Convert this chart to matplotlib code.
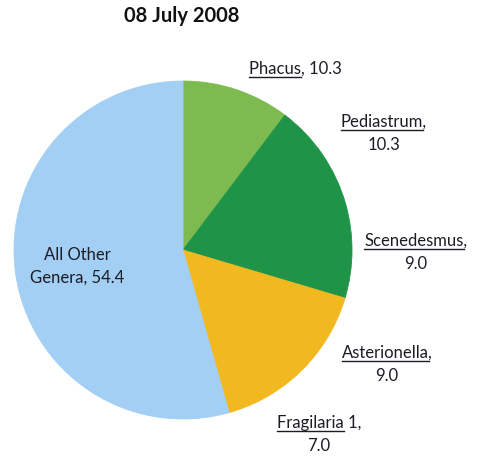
import matplotlib
matplotlib.use("Agg")
import matplotlib.pyplot as plt
from matplotlib.lines import Line2D

# Share of total cell count by genus, 08 July 2008
genera = ["Phacus", "Pediastrum", "Scenedesmus", "Asterionella", "Fragilaria 1", "All Other Genera"]
percent = [10.3, 10.3, 9.0, 9.0, 7.0, 54.4]
slice_colors = ["#7dbb50", "#1f9448", "#1f9448", "#f2b820", "#f2b820", "#a3cff5"]
title = "08 July 2008"

W, H = 478, 457
FONT = "Lato"
FS = 12.0
TXT = "#1c1c24"

fig = plt.figure(figsize=(W / 100, H / 100), dpi=100)
fig.patch.set_facecolor("white")

# pie placed by pixel centre and radius
cx, cy, r = 183, 250, 169
ax = fig.add_axes([(cx - r) / W, (H - cy - r) / H, 2 * r / W, 2 * r / H])
wedges, _ = ax.pie(percent, colors=slice_colors, startangle=90, counterclock=False,
                   radius=1, wedgeprops=dict(linewidth=0.6))
for w in wedges:
    # edge in the fill colour hides antialiasing seams between equal colours
    w.set_edgecolor(w.get_facecolor())
ax.set_xlim(-1, 1)
ax.set_ylim(-1, 1)
ax.axis("off")

fig.text(182 / W, 1 - 22 / H, title, ha="center", va="baseline",
         fontsize=14.5, fontweight="bold", family=FONT, color="#111111")

renderer = fig.canvas.get_renderer()


def text_width(s):
    t = fig.text(0, 0, s, fontsize=FS, family=FONT)
    w = t.get_window_extent(renderer).width
    t.remove()
    return w


def draw_line(name, suffix, x, y, underline=True):
    """Draw a centred line 'name+suffix' with the name underlined; x, y in pixels (baseline)."""
    full = name + suffix
    fig.text(x / W, 1 - y / H, full, fontsize=FS, family=FONT, ha="center",
             va="baseline", color=TXT)
    if underline:
        w_full = text_width(full)
        w_name = text_width(name)
        x0 = x - w_full / 2
        fig.add_artist(Line2D([x0 / W, (x0 + w_name) / W], [1 - (y + 3) / H] * 2,
                              transform=fig.transFigure, lw=1.0, color=TXT))


v = [f"{p:.1f}" for p in percent]
LS = 23
draw_line(genera[0], f", {v[0]}", 295, 74)
draw_line(genera[1], ",", 384, 127)
draw_line(v[1], "", 384, 127 + LS, underline=False)
draw_line(genera[2], ",", 416, 246)
draw_line(v[2], "", 416, 246 + LS, underline=False)
draw_line(genera[3], ",", 387, 358)
draw_line(v[3], "", 387, 358 + LS, underline=False)
frag_name, frag_num = genera[4].split()
draw_line(frag_name, f" {frag_num},", 319, 428)
draw_line(v[4], "", 319, 428 + LS, underline=False)
draw_line("All Other", "", 77, 260, underline=False)
draw_line("Genera", f", {v[5]}", 77, 260 + LS, underline=False)

fig.savefig("out.png", dpi=100, facecolor="white")
